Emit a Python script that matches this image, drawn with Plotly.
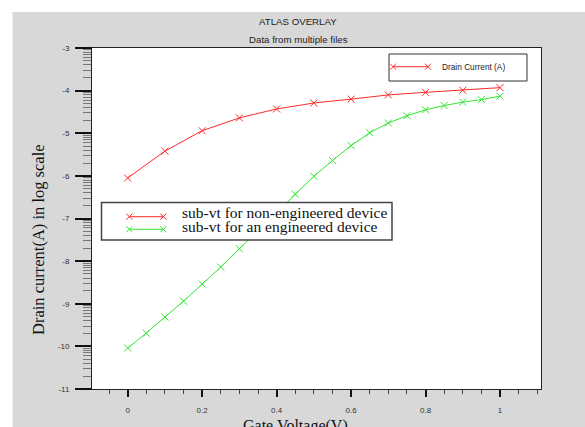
import numpy as np
import plotly.graph_objects as go

# ---------------- data ----------------
x_red = [0.0, 0.1, 0.2, 0.3, 0.4, 0.5, 0.6, 0.7, 0.8, 0.9, 1.0]
y_red = [-6.05, -5.42, -4.94, -4.64, -4.43, -4.29, -4.20, -4.10, -4.04, -3.99, -3.93]

x_green = [0.0, 0.05, 0.1, 0.15, 0.2, 0.25, 0.3, 0.35, 0.4, 0.45, 0.5,
           0.55, 0.6, 0.65, 0.7, 0.75, 0.8, 0.85, 0.9, 0.95, 1.0]
y_green = [-10.04, -9.69, -9.31, -8.94, -8.54, -8.14, -7.71, -7.28, -6.86, -6.43, -6.01,
           -5.64, -5.29, -4.99, -4.76, -4.59, -4.45, -4.35, -4.27, -4.21, -4.13]

x_tick_vals = [0, 0.2, 0.4, 0.6, 0.8, 1.0]
x_tick_text = ["0", "0.2", "0.4", "0.6", "0.8", "1"]
y_tick_vals = [-11, -10, -9, -8, -7, -6, -5, -4, -3]
y_tick_text = ["-11", "-10", "-9", "-8", "-7", "-6", "-5", "-4", "-3"]

title_main = "ATLAS OVERLAY"
title_sub = "Data from multiple files"
x_title = "Gate Voltage(V)"
y_title = "Drain current(A) in log scale"
legend_top = "Drain Current (A)"
legend_red = "sub-vt for non-engineered device"
legend_green = "sub-vt for an engineered device"

RED = "#ff2a2a"
GREEN = "#33e633"

# ---------------- geometry ----------------
FW, FH = 585, 427
L, R, T, B = 92, 541, 48, 389
W, H = R - L, B - T


def px2x(px):
    return (px - L) / W


def py2y(py):
    return (B - py) / H


def xmark(cx, cy, r=3):
    return (f"M{px2x(cx-r)},{py2y(cy-r)} L{px2x(cx+r)},{py2y(cy+r)} "
            f"M{px2x(cx-r)},{py2y(cy+r)} L{px2x(cx+r)},{py2y(cy-r)}")


fig = go.Figure()
fig.add_trace(go.Scatter(x=x_red, y=y_red, mode="lines+markers",
                         line=dict(color=RED, width=1),
                         marker=dict(symbol="x-thin", size=7, color=RED,
                                     line=dict(width=1, color=RED)),
                         showlegend=False))
fig.add_trace(go.Scatter(x=x_green, y=y_green, mode="lines+markers",
                         line=dict(color=GREEN, width=1),
                         marker=dict(symbol="x-thin", size=7, color=GREEN,
                                     line=dict(width=1, color=GREEN)),
                         showlegend=False))

y_minor = []
for d in range(-11, -3):
    for k in range(2, 10):
        y_minor.append(d + np.log10(k))

shapes = []
# white strips outside the grey panel
shapes.append(dict(type="rect", xref="paper", yref="paper", layer="below",
                   x0=px2x(-2), x1=px2x(12.5), y0=py2y(FH + 2), y1=py2y(-2),
                   fillcolor="white", line=dict(width=0)))
shapes.append(dict(type="rect", xref="paper", yref="paper", layer="below",
                   x0=px2x(-2), x1=px2x(FW + 2), y0=py2y(12), y1=py2y(-2),
                   fillcolor="white", line=dict(width=0)))
# legend box top right
shapes.append(dict(type="rect", xref="paper", yref="paper", layer="above",
                   x0=px2x(389), x1=px2x(527), y0=py2y(81), y1=py2y(54),
                   fillcolor="white", line=dict(width=1, color="#333333")))
shapes.append(dict(type="line", xref="paper", yref="paper", layer="above",
                   x0=px2x(393), x1=px2x(428), y0=py2y(66.7), y1=py2y(66.7),
                   line=dict(width=1, color=RED)))
for cx in (393, 428):
    shapes.append(dict(type="path", xref="paper", yref="paper", layer="above",
                       path=xmark(cx, 66.7), line=dict(width=1, color=RED)))
# inner legend box
shapes.append(dict(type="rect", xref="paper", yref="paper", layer="above",
                   x0=px2x(101.5), x1=px2x(392), y0=py2y(240), y1=py2y(202.5),
                   fillcolor="white", line=dict(width=1.5, color="#444444")))
for cy, col in ((216.7, RED), (229.3, GREEN)):
    shapes.append(dict(type="line", xref="paper", yref="paper", layer="above",
                       x0=px2x(129.3), x1=px2x(163.3), y0=py2y(cy), y1=py2y(cy),
                       line=dict(width=1, color=col)))
    for cx in (129.3, 163.3):
        shapes.append(dict(type="path", xref="paper", yref="paper", layer="above",
                           path=xmark(cx, cy), line=dict(width=1, color=col)))

sans = "Liberation Sans, Arial, sans-serif"
serif = "Liberation Serif, Times New Roman, serif"

annotations = [
    dict(text=title_main, x=px2x(298), y=py2y(21.3), xref="paper", yref="paper",
         showarrow=False, xanchor="center", yanchor="middle",
         font=dict(family=sans, size=9.7, color="#222222")),
    dict(text=title_sub, x=px2x(298), y=py2y(39), xref="paper", yref="paper",
         showarrow=False, xanchor="center", yanchor="middle",
         font=dict(family=sans, size=9.7, color="#222222")),
    dict(text=y_title, x=px2x(38.5), y=py2y(239.5), xref="paper", yref="paper",
         showarrow=False, xanchor="center", yanchor="middle", textangle=-90,
         font=dict(family=serif, size=16.5, color="#111111")),
    dict(text=x_title, x=px2x(295.5), y=py2y(426), xref="paper", yref="paper",
         showarrow=False, xanchor="center", yanchor="middle",
         font=dict(family=serif, size=16, color="#111111")),
    dict(text=legend_top, x=px2x(440), y=py2y(67), xref="paper", yref="paper",
         showarrow=False, xanchor="left", yanchor="middle",
         font=dict(family=sans, size=8.3, color="#222222")),
    dict(text=legend_red, x=px2x(180), y=py2y(212.5), xref="paper", yref="paper",
         showarrow=False, xanchor="left", yanchor="middle",
         font=dict(family=serif, size=15.5, color="#111111")),
    dict(text=legend_green, x=px2x(180), y=py2y(226), xref="paper", yref="paper",
         showarrow=False, xanchor="left", yanchor="middle",
         font=dict(family=serif, size=15.5, color="#111111")),
]

fig.update_layout(
    width=FW, height=FH,
    margin=dict(l=L, r=FW - R, t=T, b=FH - B, pad=0),
    paper_bgcolor="#d8d8d8",
    plot_bgcolor="white",
    showlegend=False,
    shapes=shapes,
    annotations=annotations,
    xaxis=dict(range=[-0.0959, 1.1101], showgrid=False, zeroline=False,
               showline=True, mirror=True, linecolor="#222222", linewidth=1,
               ticks="outside", ticklen=7, tickwidth=1.5, tickcolor="#111111",
               tickmode="array", tickvals=x_tick_vals, ticktext=x_tick_text,
               tickfont=dict(family=sans, size=8, color="#333333"),
               ticklabelstandoff=6,
               minor=dict(tickmode="linear", tick0=0, dtick=0.05, ticks="outside",
                          ticklen=4, tickwidth=1, tickcolor="#444444", showgrid=False)),
    yaxis=dict(range=[-11, -3], showgrid=False, zeroline=False,
               showline=True, mirror=True, linecolor="#222222", linewidth=1,
               ticks="outside", ticklen=16, tickwidth=1.5, tickcolor="#111111",
               tickmode="array", tickvals=y_tick_vals, ticktext=y_tick_text,
               tickfont=dict(family=sans, size=8, color="#333333"),
               ticklabelstandoff=4,
               minor=dict(tickmode="array", tickvals=y_minor, ticks="outside",
                          ticklen=8, tickwidth=1, tickcolor="#777777", showgrid=False)),
)

fig.write_html("out.html")
